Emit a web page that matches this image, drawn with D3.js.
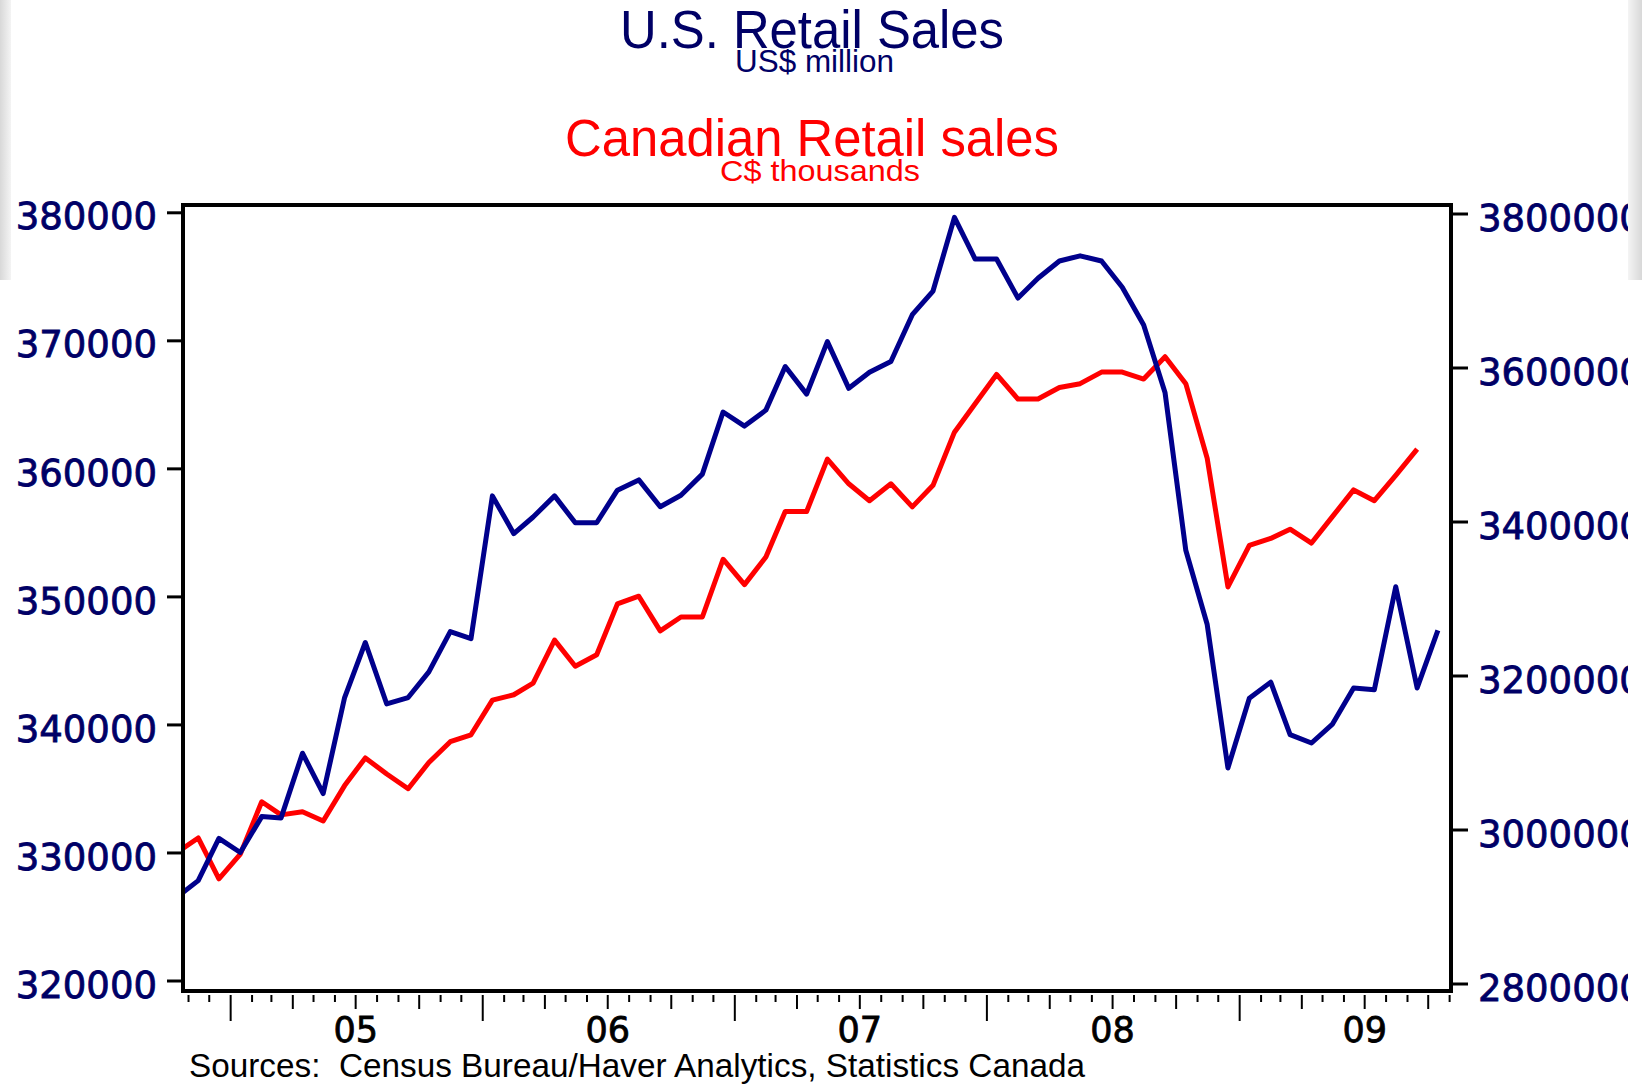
<!DOCTYPE html>
<meta charset="utf-8" />
<html>
  <head>
    <script src="https://d3js.org/d3.v7.min.js"></script>
    <style>
      body {
        margin: 0;
        background-color: white;
      }
      svg {
        display: block;
      }
    </style>
  </head>
  <body>
    <div id="chart"></div>
  </body>

  <script>
    // months Oct 2004 .. Oct 2009
    const months = [
      "2004-10", "2004-11", "2004-12",
      "2005-01", "2005-02", "2005-03", "2005-04", "2005-05", "2005-06", "2005-07", "2005-08", "2005-09", "2005-10", "2005-11", "2005-12",
      "2006-01", "2006-02", "2006-03", "2006-04", "2006-05", "2006-06", "2006-07", "2006-08", "2006-09", "2006-10", "2006-11", "2006-12",
      "2007-01", "2007-02", "2007-03", "2007-04", "2007-05", "2007-06", "2007-07", "2007-08", "2007-09", "2007-10", "2007-11", "2007-12",
      "2008-01", "2008-02", "2008-03", "2008-04", "2008-05", "2008-06", "2008-07", "2008-08", "2008-09", "2008-10", "2008-11", "2008-12",
      "2009-01", "2009-02", "2009-03", "2009-04", "2009-05", "2009-06", "2009-07", "2009-08", "2009-09", "2009-10"
    ];

    // U.S. retail sales, US$ million (left axis)
    const usSales = [
      326500, 327800, 331100,
      330000, 332800, 332700, 337750, 334600, 342100, 346400, 341600, 342100, 344100, 347250, 346700,
      357850, 354900, 356200, 357850, 355750, 355750, 358300, 359100, 357000, 357900, 359550, 364400,
      363300, 364550, 367950, 365800, 369900, 366250, 367500, 368350, 372000, 373850, 379600, 376350,
      376350, 373300, 374850, 376200, 376600, 376200, 374150, 371200, 365900, 353600, 347800, 336600,
      342050, 343300, 339200, 338550, 340000, 342850, 342700, 350750, 342850, 347350
    ];

    // Canadian retail sales, C$ thousands (right axis)
    const caSales = [
      29700000, 29890000, 29360000,
      29680000, 30360000, 30190000, 30230000, 30110000, 30570000, 30930000, 30720000, 30530000, 30870000, 31140000, 31230000,
      31680000, 31750000, 31900000, 32460000, 32120000, 32270000, 32930000, 33030000, 32580000, 32760000, 32760000, 33510000,
      33180000, 33540000, 34130000, 34130000, 34810000, 34490000, 34270000, 34490000, 34190000, 34470000, 35160000, 35530000,
      35910000, 35590000, 35590000, 35740000, 35790000, 35940000, 35940000, 35850000, 36140000, 35790000, 34820000, 33150000,
      33690000, 33780000, 33900000, 33720000, 34060000, 34410000, 34270000, 34600000, 34940000, null
    ];

    const leftTicks = [320000, 330000, 340000, 350000, 360000, 370000, 380000];
    const rightTicks = [28000000, 30000000, 32000000, 34000000, 36000000, 38000000];
    const yearLabels = [2005, 2006, 2007, 2008, 2009];

    const width = 1642;
    const height = 1088;
    const box = {left: 183, right: 1451, top: 205, bottom: 991};
    const navy = "#000066";

    const parseMonth = d3.utcParse("%Y-%m");
    const midMonth = m => d3.utcDay.offset(parseMonth(m), 14);

    const data = months.map((m, i) => ({date: midMonth(m), us: usSales[i], ca: caSales[i]}));

    const svg = d3.select("#chart").append("svg")
      .attr("width", width)
      .attr("height", height);

    // light grey slide edges at the top corners
    const defs = svg.append("defs");
    const gl = defs.append("linearGradient").attr("id", "edgeL");
    gl.append("stop").attr("offset", "0%").attr("stop-color", "#d8d8d8");
    gl.append("stop").attr("offset", "100%").attr("stop-color", "#f4f4f4");
    const gr = defs.append("linearGradient").attr("id", "edgeR");
    gr.append("stop").attr("offset", "0%").attr("stop-color", "#f4f4f4");
    gr.append("stop").attr("offset", "100%").attr("stop-color", "#d8d8d8");
    svg.append("rect").attr("x", 0).attr("y", 0).attr("width", 11).attr("height", 280).attr("fill", "url(#edgeL)");
    svg.append("rect").attr("x", 1628).attr("y", 0).attr("width", 14).attr("height", 280).attr("fill", "url(#edgeR)");

    defs.append("clipPath").attr("id", "plotClip")
      .append("rect")
      .attr("x", box.left + 2).attr("y", box.top + 2)
      .attr("width", box.right - box.left - 4).attr("height", box.bottom - box.top - 4);

    // the picture itself ends at x = 1628, the right labels run past it
    defs.append("clipPath").attr("id", "pageClip")
      .append("rect")
      .attr("x", 0).attr("y", 0)
      .attr("width", 1628).attr("height", height);

    const x = d3.scaleUtc()
      .domain([new Date(Date.UTC(2004, 9, 24)), new Date(Date.UTC(2009, 10, 3))])
      .range([box.left, box.right]);

    const yL = d3.scaleLinear()
      .domain([320000, 380000])
      .range([980.5, 212.3]);

    const yR = d3.scaleLinear()
      .domain([28000000, 38000000])
      .range([983.5, 213.5]);

    // titles
    const title = (txt, xx, yy, size, len, color) => svg.append("text")
      .attr("x", xx).attr("y", yy)
      .attr("textLength", len).attr("lengthAdjust", "spacingAndGlyphs")
      .style("font-family", "'Liberation Sans', Arial, sans-serif")
      .style("font-size", size + "px")
      .style("fill", color)
      .text(txt);

    title("U.S. Retail Sales", 620, 48, 53, 384, navy);
    title("US$ million", 735, 72, 31, 159, navy);
    title("Canadian Retail sales", 565, 156, 52.6, 494, "#ff0000");
    title("C$ thousands", 720, 181, 30, 200, "#ff0000");

    // lines
    const plot = svg.append("g").attr("clip-path", "url(#plotClip)");

    const usLine = d3.line()
      .x(d => x(d.date))
      .y(d => yL(d.us));

    const caLine = d3.line()
      .defined(d => d.ca !== null)
      .x(d => x(d.date))
      .y(d => yR(d.ca));

    plot.append("path")
      .datum(data)
      .attr("fill", "none")
      .attr("stroke", "#ff0000")
      .attr("stroke-width", 5)
      .attr("stroke-linejoin", "round")
      .attr("d", caLine);

    plot.append("path")
      .datum(data)
      .attr("fill", "none")
      .attr("stroke", "#00008c")
      .attr("stroke-width", 5)
      .attr("stroke-linejoin", "round")
      .attr("d", usLine);

    // left axis
    const leftAxis = svg.append("g")
      .attr("transform", `translate(${box.left},0)`)
      .call(d3.axisLeft(yL).tickValues(leftTicks).tickSize(16).tickPadding(10).tickFormat(d3.format("d")));

    // right axis
    const rightAxis = svg.append("g")
      .attr("clip-path", "url(#pageClip)")
      .append("g")
      .attr("transform", `translate(${box.right},0)`)
      .call(d3.axisRight(yR).tickValues(rightTicks).tickSize(17).tickPadding(10).tickFormat(d3.format("d")));

    [leftAxis, rightAxis].forEach(g => {
      g.select(".domain").remove();
      g.selectAll(".tick line").attr("stroke", "black").attr("stroke-width", 3);
      g.selectAll(".tick text")
        .attr("dy", "0.45em")
        .style("font-family", "'DejaVu Sans', Verdana, sans-serif")
        .style("font-size", "37px")
        .style("fill", navy)
        .style("stroke", navy)
        .style("stroke-width", 0.8);
    });

    // month ticks under the frame
    const monthTicks = d3.utcMonth.range(new Date(Date.UTC(2004, 10, 1)), new Date(Date.UTC(2009, 10, 2)));
    svg.append("g")
      .selectAll("line")
      .data(monthTicks)
      .join("line")
        .attr("x1", d => x(d))
        .attr("x2", d => x(d))
        .attr("y1", box.bottom + 4)
        .attr("y2", d => box.bottom + 4 + (d.getUTCMonth() === 0 ? 26 : d.getUTCMonth() % 3 === 0 ? 14 : 7))
        .attr("stroke", "black")
        .attr("stroke-width", 2);

    svg.append("g")
      .selectAll("text")
      .data(yearLabels)
      .join("text")
        .attr("x", d => x(new Date(Date.UTC(d, 6, 1))))
        .attr("y", 1042)
        .attr("text-anchor", "middle")
        .style("font-family", "'DejaVu Sans', Verdana, sans-serif")
        .style("font-size", "35px")
        .style("fill", "black")
        .style("stroke", "black")
        .style("stroke-width", 0.8)
        .text(d => d3.utcFormat("%y")(new Date(Date.UTC(d, 0, 1))));

    // frame
    svg.append("rect")
      .attr("x", box.left).attr("y", box.top)
      .attr("width", box.right - box.left).attr("height", box.bottom - box.top)
      .attr("fill", "none")
      .attr("stroke", "black")
      .attr("stroke-width", 4);

    // source note
    svg.append("text")
      .attr("x", 189).attr("y", 1077)
      .attr("textLength", 896).attr("lengthAdjust", "spacingAndGlyphs")
      .style("font-family", "'Liberation Sans', Arial, sans-serif")
      .style("font-size", "33px")
      .style("fill", "black")
      .style("white-space", "pre")
      .text("Sources:  Census Bureau/Haver Analytics, Statistics Canada");
  </script>
</html>
